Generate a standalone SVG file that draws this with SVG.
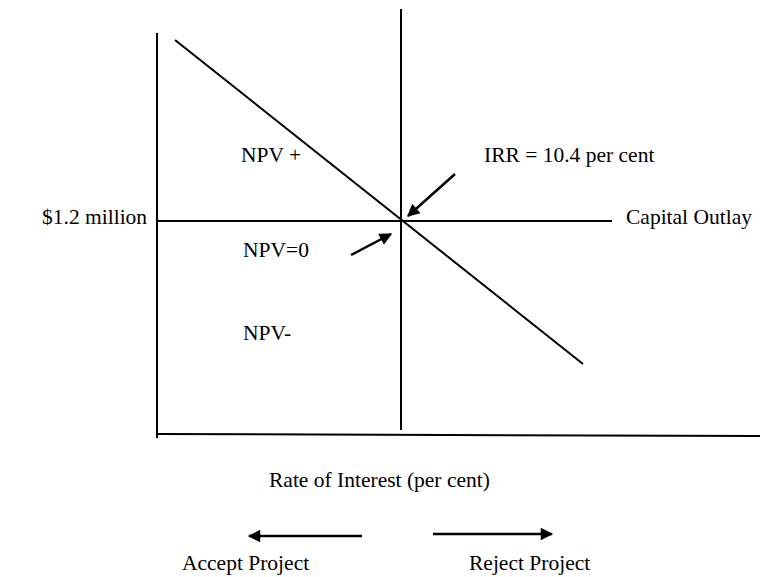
<svg xmlns="http://www.w3.org/2000/svg" width="768" height="577" viewBox="0 0 768 577">
<style>
.ln{stroke:#000;stroke-width:2;fill:none}
.ar{stroke:#000;stroke-width:2.5;fill:none}
.t{font-family:'Liberation Serif','Times New Roman',Times,serif;font-size:21.5px;fill:#000}
</style>
<defs>
<marker id="ah" viewBox="0 0 10 10" refX="9" refY="5" markerWidth="6" markerHeight="5" orient="auto" markerUnits="strokeWidth">
<path d="M0,0 L10,5 L0,10 z" fill="#000"/>
</marker>
</defs>
<rect width="768" height="577" fill="#fff"/>
<g id="axes">
<line class="ln" x1="157" y1="33" x2="157" y2="438"/>
<line class="ln" x1="157" y1="434" x2="760" y2="436"/>
<line class="ln" x1="401" y1="9" x2="401" y2="430"/>
<line class="ln" x1="157" y1="221" x2="612" y2="221"/>
<line class="ln" x1="175" y1="40" x2="583" y2="364"/>
</g>
<g id="connectors">
<line class="ar" x1="455" y1="174" x2="408" y2="216" marker-end="url(#ah)"/>
<line class="ar" x1="351" y1="255" x2="391" y2="234" marker-end="url(#ah)"/>
<line class="ar" x1="362" y1="536" x2="249" y2="536" marker-end="url(#ah)"/>
<line class="ar" x1="433" y1="534" x2="552" y2="534" marker-end="url(#ah)"/>
</g>
<g id="labels">
<text class="t" x="241" y="162">NPV +</text>
<text class="t" x="484" y="162">IRR = 10.4 per cent</text>
<text class="t" x="42" y="224">$1.2 million</text>
<text class="t" x="626" y="224">Capital Outlay</text>
<text class="t" x="243" y="257">NPV=0</text>
<text class="t" x="243" y="340">NPV-</text>
<text class="t" x="269" y="487">Rate of Interest (per cent)</text>
<text class="t" x="182" y="570">Accept Project</text>
<text class="t" x="469" y="570">Reject Project</text>
</g>
</svg>
